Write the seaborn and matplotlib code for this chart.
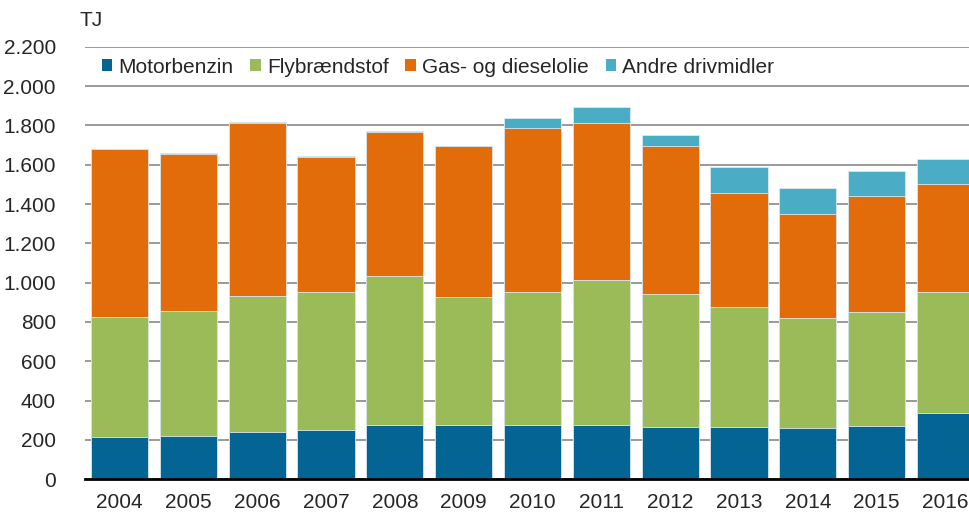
import numpy as np
import pandas as pd
import matplotlib.pyplot as plt
from matplotlib.patches import Patch
import seaborn as sns

# values (TJ)
years = ["2004", "2005", "2006", "2007", "2008", "2009", "2010",
         "2011", "2012", "2013", "2014", "2015", "2016"]
motorbenzin = [216, 221, 242, 250, 276, 276, 276, 276, 266, 268, 262, 271, 337]
flybraendstof = [609, 634, 691, 702, 757, 650, 674, 736, 677, 608, 556, 579, 615]
gas_diesel = [853, 801, 879, 687, 733, 767, 838, 798, 752, 579, 532, 593, 550]
andre = [4, 3, 4, 3, 3, 3, 51, 85, 54, 132, 132, 127, 127]

series_names = ["Motorbenzin", "Flybrændstof", "Gas- og dieselolie", "Andre drivmidler"]
colors = ["#046494", "#9bbb59", "#e36c0a", "#4bacc6"]

sns.set_style("white")
plt.rcParams['font.family'] = ['Liberation Sans', 'DejaVu Sans']

df = pd.DataFrame({"year": years,
                   "Motorbenzin": motorbenzin,
                   "Flybrændstof": flybraendstof,
                   "Gas- og dieselolie": gas_diesel,
                   "Andre drivmidler": andre})
# cumulative totals, so the stack can be drawn tallest first
cum = df[series_names].cumsum(axis=1)

fig = plt.figure(figsize=(9.69, 5.14), dpi=100)
ax = fig.add_axes([85 / 969, 1 - 479.3 / 514, 1 - 85 / 969, (479.3 - 46.7) / 514])

for name, col in reversed(list(zip(series_names, colors))):
    sns.barplot(x=df["year"], y=cum[name], color=col, width=0.83,
                saturation=1, ax=ax, edgecolor="#dbe8ee", linewidth=0.6)

ax.set_ylim(0, 2200)
ax.set_xlim(-0.5, 12.34)
ax.set_yticks(range(0, 2201, 200))
ax.set_yticklabels([f"{v:,}".replace(",", ".") for v in range(0, 2201, 200)])
ax.yaxis.grid(True, color="#9a9a9a", linewidth=1.4)
ax.set_axisbelow(True)
for s in ["left", "right", "top"]:
    ax.spines[s].set_visible(False)
ax.spines["bottom"].set_color("black")
ax.spines["bottom"].set_linewidth(2)
ax.set_xlabel("")
ax.set_ylabel("")
ax.tick_params(axis="y", length=0, pad=21, labelsize=15)
ax.tick_params(axis="x", length=0, pad=10, labelsize=15)

handles = [Patch(facecolor=c, edgecolor="none") for c in colors]
ax.legend(handles, series_names, loc="center left", bbox_to_anchor=(0.005, 0.953),
          ncol=4, frameon=False, fontsize=15, handlelength=0.5, handleheight=0.5,
          handletextpad=0.3, columnspacing=0.8, borderaxespad=0.2)

fig.text(80 / 969, 1 - 20 / 514, "TJ", fontsize=15, va="center", ha="left")

fig.savefig("out.png", dpi=100)
